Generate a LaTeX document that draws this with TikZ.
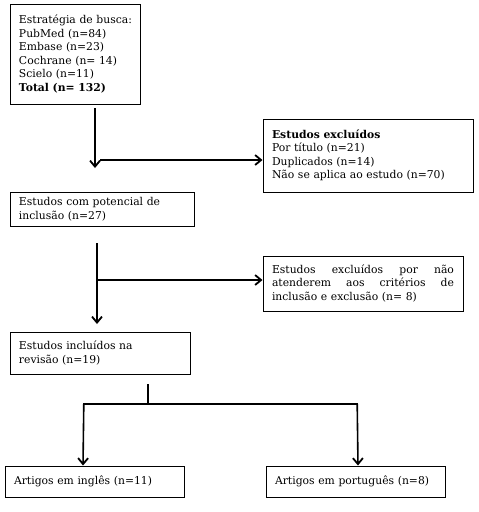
\documentclass[tikz,border=0pt]{standalone}
\usepackage{fontspec}
\setmainfont{DejaVu Serif}
\usetikzlibrary{arrows.meta}
\begin{document}
\begin{tikzpicture}[x=1pt,y=-1pt,
  box/.style={draw,line width=1pt,inner xsep=9pt,inner ysep=2pt,font=\fontsize{10.8}{13.5}\selectfont,align=left},
  conn/.style={line width=1.6pt},
  arr/.style={conn,-{Straight Barb[length=6pt,width=10pt,line width=1.8pt]}}]
\useasboundingbox (0,0) rectangle (479,512);
\node[box,text width=112pt,minimum height=100pt] (b1) at (75,54) {\mbox{Estratégia de busca:}\\PubMed (n=84)\\Embase (n=23)\\Cochrane (n= 14)\\Scielo (n=11)\\\textbf{Total (n= 132)}};
\node[box,text width=192pt,minimum height=73pt] (b2) at (368,155.5) {\textbf{Estudos excluídos}\\Por título (n=21)\\Duplicados (n=14)\\Não se aplica ao estudo (n=70)};
\node[box,text width=166pt,minimum height=34pt] (b3) at (102,209) {Estudos com potencial de\\inclusão (n=27)};
\node[box,text width=182pt,minimum height=55pt] (b4) at (363,283.5) {\leavevmode\hbox to 182pt{Estudos\hfill excluídos\hfill por\hfill não}\\\leavevmode\hbox to 182pt{atenderem\hfill aos\hfill critérios\hfill de}\\inclusão e exclusão (n= 8)};
\node[box,text width=162pt,minimum height=42pt] (b5) at (100,353) {Estudos incluídos na\\revisão (n=19)};
\node[box,text width=161pt,minimum height=31pt] (b6) at (94.5,481.5) {Artigos em inglês (n=11)};
\node[box,text width=161pt,minimum height=31pt] (b7) at (355.5,481.5) {Artigos em português (n=8)};
\coordinate (a1s) at (95,108);
\coordinate (a1e) at (95,168);
\coordinate (h1s) at (100,160);
\draw[arr] (a1s) -- (a1e);
\draw[arr] (h1s) -- (b2.west |- h1s);
\coordinate (a2s) at (97,243);
\coordinate (a2e) at (97,324);
\coordinate (h2s) at (97,280);
\draw[arr] (a2s) -- (a2e);
\draw[arr] (h2s) -- (b4.west |- h2s);
\coordinate (s3) at (148,384);
\coordinate (j3) at (148,404);
\coordinate (l3) at (83,404);
\coordinate (r3) at (358,404);
\draw[conn] (s3) -- (j3);
\draw[conn] (l3) -- (r3);
\draw[arr] ([xshift=0.8pt]l3) -- (l3 |- b6.north);
\draw[arr] ([xshift=-0.8pt]r3) -- (r3 |- b7.north);
\end{tikzpicture}
\end{document}
